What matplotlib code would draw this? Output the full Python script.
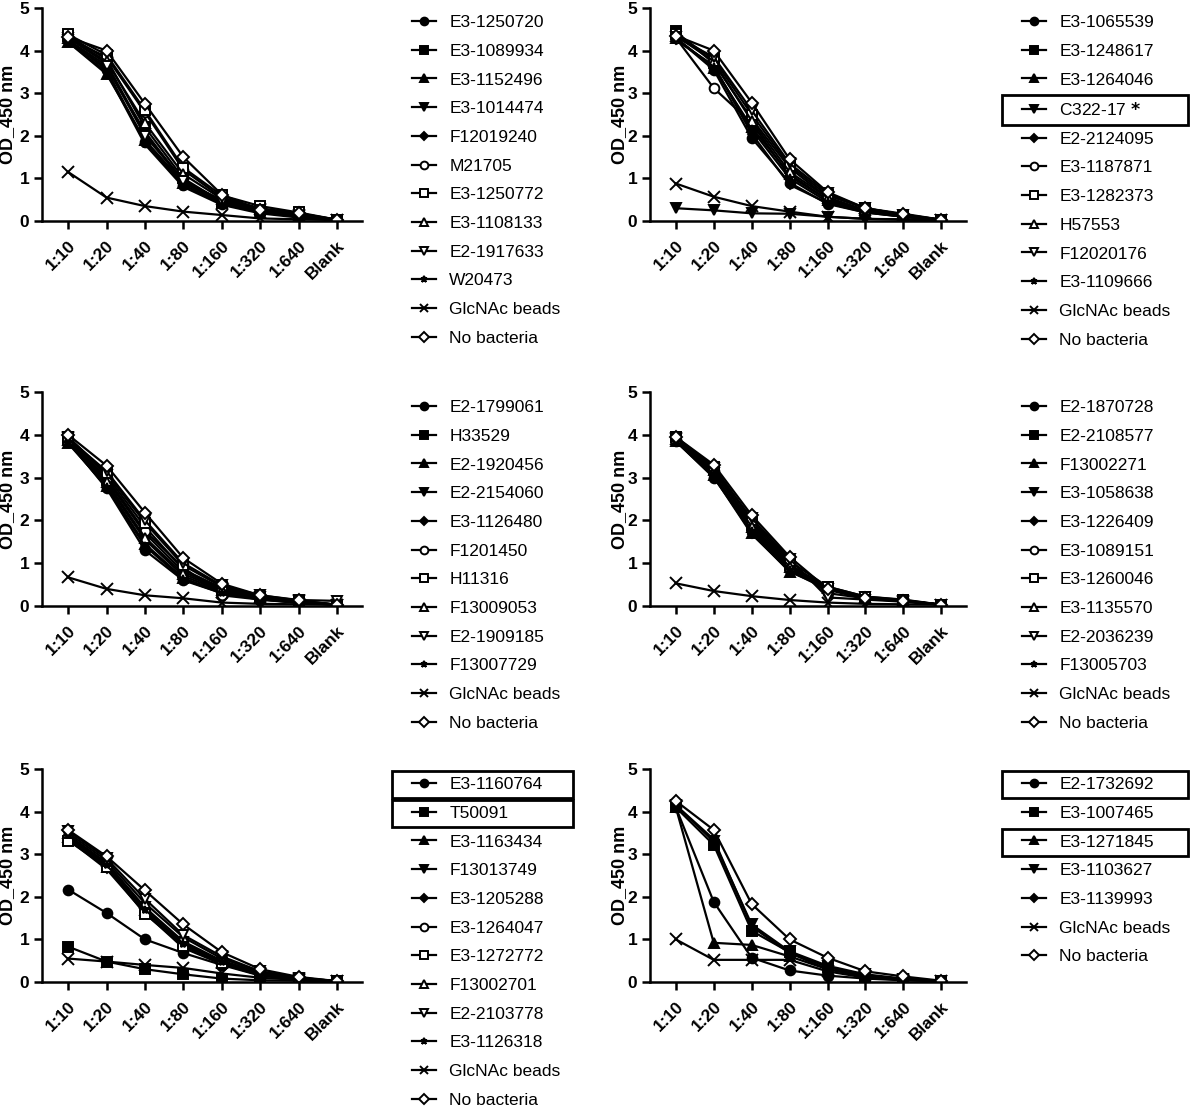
import numpy as np
import matplotlib
matplotlib.use('Agg')
import matplotlib.pyplot as plt
from matplotlib.patches import Rectangle

plt.rcParams['font.family'] = ['Liberation Sans', 'DejaVu Sans']

dilutions = ['1:10', '1:20', '1:40', '1:80', '1:160', '1:320', '1:640', 'Blank']

# panel A (top left)
a_labels = ['E3-1250720', 'E3-1089934', 'E3-1152496', 'E3-1014474', 'F12019240', 'M21705',
            'E3-1250772', 'E3-1108133', 'E2-1917633', 'W20473', 'GlcNAc beads', 'No bacteria']
a_values = [
    [4.25, 3.55, 1.85, 0.85, 0.40, 0.20, 0.10, 0.03],
    [4.35, 3.80, 2.20, 1.00, 0.45, 0.25, 0.12, 0.03],
    [4.20, 3.45, 1.90, 0.90, 0.42, 0.22, 0.10, 0.03],
    [4.30, 3.70, 2.05, 0.95, 0.48, 0.28, 0.15, 0.03],
    [4.22, 3.60, 2.10, 0.90, 0.50, 0.24, 0.12, 0.03],
    [4.28, 3.85, 2.55, 1.20, 0.55, 0.30, 0.18, 0.03],
    [4.38, 3.90, 2.60, 1.25, 0.60, 0.35, 0.20, 0.03],
    [4.30, 3.75, 2.30, 1.10, 0.52, 0.28, 0.15, 0.03],
    [4.25, 3.65, 2.00, 0.95, 0.45, 0.25, 0.12, 0.03],
    [4.20, 3.50, 1.80, 0.80, 0.38, 0.18, 0.08, 0.03],
    [1.15, 0.55, 0.35, 0.22, 0.14, 0.06, 0.04, 0.02],
    [4.32, 4.00, 2.75, 1.50, 0.62, 0.25, 0.18, 0.03],
]

# panel B (top right)
b_labels = ['E3-1065539', 'E3-1248617', 'E3-1264046', 'C322-17 $\\bf{*}$', 'E2-2124095', 'E3-1187871',
            'E3-1282373', 'H57553', 'F12020176', 'E3-1109666', 'GlcNAc beads', 'No bacteria']
b_values = [
    [4.30, 3.55, 1.95, 0.90, 0.40, 0.20, 0.10, 0.03],
    [4.45, 3.70, 2.40, 1.25, 0.55, 0.25, 0.12, 0.03],
    [4.30, 3.60, 2.20, 1.10, 0.50, 0.22, 0.10, 0.03],
    [0.30, 0.25, 0.18, 0.17, 0.10, 0.05, 0.03, 0.02],
    [4.25, 3.65, 2.05, 0.85, 0.42, 0.20, 0.10, 0.03],
    [4.30, 3.12, 2.30, 1.05, 0.50, 0.25, 0.12, 0.03],
    [4.40, 3.80, 2.50, 1.30, 0.60, 0.30, 0.15, 0.03],
    [4.35, 3.75, 2.35, 1.15, 0.55, 0.25, 0.13, 0.03],
    [4.32, 3.85, 2.60, 1.35, 0.65, 0.30, 0.15, 0.03],
    [4.28, 3.62, 2.15, 1.00, 0.45, 0.22, 0.11, 0.03],
    [0.88, 0.57, 0.35, 0.22, 0.10, 0.05, 0.04, 0.03],
    [4.35, 4.00, 2.78, 1.45, 0.68, 0.30, 0.17, 0.03],
]

# panel C (middle left)
c_labels = ['E2-1799061', 'H33529', 'E2-1920456', 'E2-2154060', 'E3-1126480', 'F1201450',
            'H11316', 'F13009053', 'E2-1909185', 'F13007729', 'GlcNAc beads', 'No bacteria']
c_values = [
    [3.85, 2.75, 1.30, 0.60, 0.30, 0.15, 0.07, 0.03],
    [3.90, 2.95, 1.70, 0.80, 0.40, 0.20, 0.10, 0.03],
    [3.80, 2.80, 1.45, 0.65, 0.32, 0.18, 0.08, 0.03],
    [3.95, 3.05, 1.85, 0.85, 0.42, 0.22, 0.12, 0.03],
    [3.85, 2.85, 1.55, 0.70, 0.35, 0.18, 0.10, 0.03],
    [3.90, 3.00, 1.75, 0.90, 0.25, 0.15, 0.08, 0.03],
    [3.95, 3.10, 1.95, 0.95, 0.45, 0.22, 0.12, 0.03],
    [3.88, 2.90, 1.60, 0.75, 0.38, 0.20, 0.10, 0.03],
    [3.92, 3.15, 2.00, 1.00, 0.48, 0.25, 0.14, 0.12],
    [3.82, 2.78, 1.40, 0.62, 0.30, 0.16, 0.08, 0.03],
    [0.67, 0.40, 0.25, 0.18, 0.08, 0.05, 0.04, 0.03],
    [4.00, 3.28, 2.18, 1.12, 0.52, 0.25, 0.13, 0.03],
]

# panel D (middle right)
d_labels = ['E2-1870728', 'E2-2108577', 'F13002271', 'E3-1058638', 'E3-1226409', 'E3-1089151',
            'E3-1260046', 'E3-1135570', 'E2-2036239', 'F13005703', 'GlcNAc beads', 'No bacteria']
d_values = [
    [3.85, 3.00, 1.75, 0.85, 0.40, 0.18, 0.12, 0.03],
    [3.95, 3.20, 1.90, 0.95, 0.45, 0.22, 0.15, 0.03],
    [3.85, 3.05, 1.70, 0.80, 0.42, 0.18, 0.12, 0.03],
    [3.90, 3.10, 1.80, 0.90, 0.40, 0.20, 0.12, 0.03],
    [3.85, 3.02, 1.68, 0.82, 0.38, 0.17, 0.11, 0.03],
    [3.88, 3.15, 1.95, 1.00, 0.30, 0.18, 0.12, 0.03],
    [3.95, 3.25, 2.00, 1.05, 0.45, 0.22, 0.14, 0.03],
    [3.90, 3.18, 1.85, 0.92, 0.42, 0.20, 0.13, 0.03],
    [3.92, 3.22, 2.05, 1.10, 0.20, 0.15, 0.10, 0.03],
    [3.85, 3.08, 1.75, 0.85, 0.40, 0.18, 0.12, 0.03],
    [0.53, 0.35, 0.23, 0.14, 0.08, 0.05, 0.04, 0.03],
    [3.95, 3.30, 2.12, 1.15, 0.40, 0.18, 0.12, 0.03],
]

# panel E (bottom left)
e_labels = ['E3-1160764', 'T50091', 'E3-1163434', 'F13013749', 'E3-1205288', 'E3-1264047',
            'E3-1272772', 'F13002701', 'E2-2103778', 'E3-1126318', 'GlcNAc beads', 'No bacteria']
e_values = [
    [2.17, 1.62, 1.00, 0.68, 0.40, 0.15, 0.05, 0.02],
    [0.83, 0.48, 0.30, 0.18, 0.08, 0.04, 0.03, 0.02],
    [3.40, 2.70, 1.70, 0.85, 0.45, 0.18, 0.06, 0.02],
    [3.45, 2.80, 1.75, 0.95, 0.50, 0.22, 0.08, 0.02],
    [3.35, 2.65, 1.62, 0.80, 0.42, 0.16, 0.06, 0.02],
    [3.40, 2.75, 1.65, 0.90, 0.48, 0.20, 0.08, 0.02],
    [3.32, 2.70, 1.60, 0.85, 0.45, 0.18, 0.07, 0.02],
    [3.50, 2.85, 1.85, 1.05, 0.55, 0.25, 0.10, 0.02],
    [3.55, 2.90, 1.95, 1.10, 0.60, 0.25, 0.10, 0.02],
    [3.45, 2.75, 1.70, 0.90, 0.48, 0.20, 0.08, 0.02],
    [0.55, 0.48, 0.40, 0.33, 0.20, 0.10, 0.05, 0.02],
    [3.57, 2.95, 2.15, 1.35, 0.70, 0.30, 0.12, 0.02],
]

# panel F (bottom right)
f_labels = ['E2-1732692', 'E3-1007465', 'E3-1271845', 'E3-1103627', 'E3-1139993',
            'GlcNAc beads', 'No bacteria']
f_values = [
    [4.10, 1.88, 0.57, 0.27, 0.15, 0.08, 0.04, 0.02],
    [4.10, 3.22, 1.20, 0.70, 0.35, 0.15, 0.07, 0.02],
    [4.10, 0.92, 0.87, 0.60, 0.30, 0.12, 0.05, 0.02],
    [4.15, 3.30, 1.35, 0.72, 0.38, 0.18, 0.08, 0.02],
    [4.15, 3.35, 1.30, 0.68, 0.30, 0.15, 0.07, 0.02],
    [1.00, 0.52, 0.52, 0.52, 0.25, 0.10, 0.05, 0.02],
    [4.25, 3.57, 1.83, 1.00, 0.57, 0.25, 0.13, 0.03],
]

# marker styles: (marker, filled, size)
strain_styles = [('o', True, 7), ('s', True, 7), ('^', True, 7.5), ('v', True, 7.5),
                 ('D', True, 4.5), ('o', False, 7), ('s', False, 7), ('^', False, 7.5),
                 ('v', False, 7.5), ('*', True, 6)]
glc_style = ('x', True, 8)
nob_style = ('D', False, 6.5)

W, H = 1192, 1109
fig = plt.figure(figsize=(W / 100, H / 100), dpi=100)

col_x = [(42, 362), (650, 966)]
row_y = [(8, 221), (392, 606), (769, 982)]
ylab_gap = [26, 22]
leg_x = [412, 1022]
leg_row_top = [15, 400, 777]
box_right = [573, 1188]

panels = [
    (a_labels, a_values, 0, 0, []),
    (b_labels, b_values, 0, 1, [3]),
    (c_labels, c_values, 1, 0, []),
    (d_labels, d_values, 1, 1, []),
    (e_labels, e_values, 2, 0, [0, 1]),
    (f_labels, f_values, 2, 1, [0, 2]),
]

legends = []
x = np.arange(len(dilutions))
for labels, values, r, c, boxed in panels:
    x0, x1 = col_x[c]
    y0, y1 = row_y[r]
    ax = fig.add_axes([x0 / W, 1 - y1 / H, (x1 - x0) / W, (y1 - y0) / H])
    n_strain = len(labels) - 2
    styles = strain_styles[:n_strain] + [glc_style, nob_style]
    for lab, vals, (m, filled, ms) in zip(labels, values, styles):
        ax.plot(x, vals, color='black', lw=1.6, marker=m, markersize=ms,
                markerfacecolor='black' if filled else 'white',
                markeredgecolor='black', markeredgewidth=1.4, label=lab)
    ax.set_xlim(-0.68, 7.65)
    ax.set_ylim(0, 5)
    ax.set_yticks([0, 1, 2, 3, 4, 5])
    ax.set_xticks(x)
    ax.set_xticklabels(dilutions, rotation=45, ha='right', rotation_mode='anchor')
    for sp in ['top', 'right']:
        ax.spines[sp].set_visible(False)
    for sp in ['left', 'bottom']:
        ax.spines[sp].set_linewidth(1.8)
    ax.tick_params(width=1.8, length=6, labelsize=12.5)
    ax.tick_params(axis='x', pad=6)
    ax.tick_params(axis='y', pad=3)
    for t in ax.get_xticklabels() + ax.get_yticklabels():
        t.set_fontweight('bold')
    ax.set_ylabel('OD_450 nm', fontsize=13, fontweight='bold')
    ax.yaxis.set_label_coords(-ylab_gap[c] / (x1 - x0), 0.5)
    leg = ax.legend(loc='upper left', bbox_to_anchor=(leg_x[c] / W, 1 - leg_row_top[r] / H),
                    bbox_transform=fig.transFigure, frameon=False, fontsize=12.5,
                    handlelength=1.4, handletextpad=0.75, labelspacing=0.78,
                    borderpad=0, borderaxespad=0)
    for h in leg.legend_handles:
        h.set_markersize(h.get_markersize() * 0.8)
    legends.append((leg, boxed, c))

fig.canvas.draw()
for leg, boxed, c in legends:
    lb = leg.get_window_extent()
    texts = leg.get_texts()
    for i in boxed:
        tb = texts[i].get_window_extent()
        yc = (tb.y0 + tb.y1) / 2
        hgt = 30 if c == 1 and len(boxed) == 1 else 27
        left = lb.x0 - 20
        right = box_right[c]
        rect = Rectangle((left / W, (yc - hgt / 2) / H), (right - left) / W, hgt / H,
                         transform=fig.transFigure, fill=False, edgecolor='black',
                         linewidth=2.0)
        fig.patches.append(rect)

fig.savefig('out.png', dpi=100)
